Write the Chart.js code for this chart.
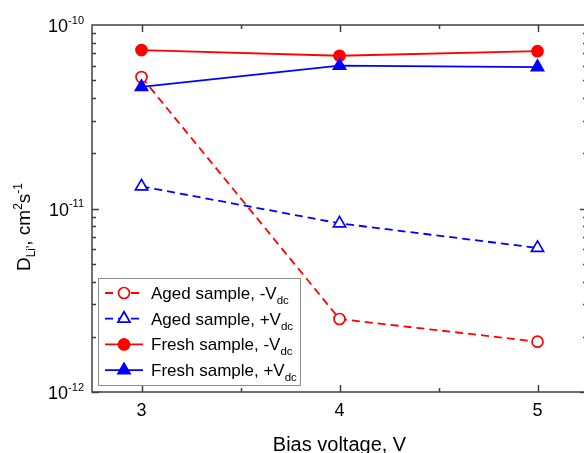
<!DOCTYPE html>
<html>
<head>
<meta charset="utf-8">
<script src="https://cdn.jsdelivr.net/npm/chart.js@4.4.1/dist/chart.umd.min.js"></script>
<style>
  html, body { margin: 0; padding: 0; background: #fff; overflow: hidden; width: 584px; height: 453px; }
  canvas { display: block; }
</style>
</head>
<body>
<canvas id="chart" width="600" height="453"></canvas>
<script>
// Values (D_Li in cm^2/s)
const biasVoltage = [3, 4, 5];
const agedNegative = [5.2e-11, 2.5e-12, 1.88e-12];
const agedPositive = [1.32e-11, 8.3e-12, 6.1e-12];
const freshNegative = [7.3e-11, 6.8e-11, 7.2e-11];
const freshPositive = [4.6e-11, 6.0e-11, 5.9e-11];

const xTickValues = [3, 4, 5];
const xMinorTicks = [3.5, 4.5];
const yDecades = [-12, -11, -10];

const seriesNames = ['Aged sample, -V', 'Aged sample, +V', 'Fresh sample, -V', 'Fresh sample, +V'];
const seriesSubscript = 'dc';

const RED = '#ff0000';
const BLUE = '#0000ff';
const AXIS = '#404040';
const FONT = '"Liberation Sans", Arial, sans-serif';

const toPoints = (values) => biasVoltage.map((x, i) => ({ x, y: values[i] }));

const series = [
  { values: agedNegative, color: RED, dash: [8, 5], style: 'circle', radius: 5.5, open: true, order: 3 },
  { values: agedPositive, color: BLUE, dash: [8, 5], style: 'triangle', radius: 7, open: true, order: 2 },
  { values: freshNegative, color: RED, dash: [], style: 'circle', radius: 5.5, open: false, order: 1 },
  { values: freshPositive, color: BLUE, dash: [], style: 'triangle', radius: 7, open: false, order: 0 }
];

const datasets = series.map((s, i) => ({
  label: seriesNames[i],
  data: toPoints(s.values),
  borderColor: s.color,
  borderWidth: 1.8,
  borderDash: s.dash,
  fill: false,
  tension: 0,
  pointStyle: s.style,
  pointRadius: s.radius,
  pointBorderWidth: 1.7,
  pointBorderColor: s.color,
  pointBackgroundColor: s.open ? '#ffffff' : s.color,
  order: s.order
}));

// draws text pieces with sub/superscripts in a row, returns end x
function drawRich(ctx, parts, x, y) {
  parts.forEach(([text, size, shift]) => {
    ctx.font = `${size}px ${FONT}`;
    ctx.fillText(text, x, y + shift);
    x += ctx.measureText(text).width;
  });
  return x;
}

function richWidth(ctx, parts) {
  return parts.reduce((w, [text, size]) => {
    ctx.font = `${size}px ${FONT}`;
    return w + ctx.measureText(text).width;
  }, 0);
}

function marker(ctx, s, x, y) {
  ctx.save();
  ctx.lineWidth = 1.7;
  ctx.strokeStyle = s.color;
  ctx.fillStyle = s.open ? '#ffffff' : s.color;
  ctx.setLineDash([]);
  Chart.helpers.drawPoint(ctx, { pointStyle: s.style, radius: s.radius, rotation: 0, borderWidth: 1.7 }, x, y);
  ctx.restore();
}

const frameAndLabels = {
  id: 'frameAndLabels',
  afterDatasetsDraw(chart) {
    const { ctx, chartArea: area, scales: { x, y } } = chart;
    ctx.save();

    // frame
    ctx.strokeStyle = AXIS;
    ctx.lineWidth = 1.5;
    ctx.strokeRect(area.left, area.top, area.right - area.left, area.bottom - area.top);

    // inward ticks
    ctx.beginPath();
    const xTick = (v, len) => {
      const px = Math.round(x.getPixelForValue(v)) + 0.5;
      ctx.moveTo(px, area.bottom); ctx.lineTo(px, area.bottom - len);
      ctx.moveTo(px, area.top); ctx.lineTo(px, area.top + len);
    };
    xTickValues.forEach(v => xTick(v, 7));
    xMinorTicks.forEach(v => xTick(v, 4));
    yDecades.slice(0, -1).forEach(e => {
      for (let m = 1; m <= 9; m++) {
        const py = Math.round(y.getPixelForValue(m * Math.pow(10, e))) + 0.5;
        const len = m === 1 ? 7 : 4;
        ctx.moveTo(area.left, py); ctx.lineTo(area.left + len, py);
        ctx.moveTo(area.right, py); ctx.lineTo(area.right - len, py);
      }
    });
    ctx.stroke();

    ctx.fillStyle = '#000';
    ctx.textBaseline = 'alphabetic';

    // x tick labels
    ctx.font = `18px ${FONT}`;
    ctx.textAlign = 'center';
    xTickValues.forEach(v => ctx.fillText(String(v), x.getPixelForValue(v), 416));

    // y tick labels: 10^e
    ctx.textAlign = 'left';
    yDecades.forEach(e => {
      const py = y.getPixelForValue(Math.pow(10, e));
      const parts = [['10', 18, 0], [String(e), 11, -8.5]];
      drawRich(ctx, parts, 84 - richWidth(ctx, parts), py + 7);
    });

    // x title
    ctx.font = `20px ${FONT}`;
    ctx.textAlign = 'center';
    ctx.fillText('Bias voltage, V', (area.left + area.right) / 2, 451);

    // y title, rotated
    ctx.textAlign = 'left';
    const yTitle = [['D', 19, 0], ["Li'", 12, 5], [', cm', 19, 0], ['2', 12, -8], ['s', 19, 0], ['-1', 12, -8]];
    const tw = richWidth(ctx, yTitle);
    ctx.save();
    ctx.translate(30, 227 + tw / 2);
    ctx.rotate(-Math.PI / 2);
    drawRich(ctx, yTitle, 0, 0);
    ctx.restore();

    // legend
    const box = { left: 98.5, top: 278.5, width: 202, height: 107 };
    ctx.fillStyle = '#ffffff';
    ctx.fillRect(box.left, box.top, box.width, box.height);
    ctx.strokeStyle = '#8c8c8c';
    ctx.lineWidth = 1;
    ctx.strokeRect(box.left, box.top, box.width, box.height);

    series.forEach((s, i) => {
      const cy = 293 + i * 25.7;
      ctx.save();
      ctx.strokeStyle = s.color;
      ctx.lineWidth = 1.8;
      ctx.setLineDash(s.dash.length ? [8, 5] : []);
      ctx.beginPath();
      ctx.moveTo(105, cy);
      ctx.lineTo(143, cy);
      ctx.stroke();
      ctx.restore();
      marker(ctx, s, 124, cy);

      ctx.fillStyle = '#000';
      ctx.textAlign = 'left';
      drawRich(ctx, [[seriesNames[i], 17, 0], [seriesSubscript, 11.5, 5]], 151, cy + 6);
    });

    ctx.restore();
  }
};

new Chart(document.getElementById('chart'), {
  type: 'line',
  data: { datasets },
  options: {
    responsive: false,
    animation: false,
    layout: { padding: { top: 25, right: 13, left: 0, bottom: 0 } },
    plugins: { legend: { display: false }, tooltip: { enabled: false } },
    scales: {
      x: {
        type: 'linear', min: 2.75, max: 5.25,
        ticks: { display: false }, grid: { display: false }, border: { display: false },
        afterFit: (scale) => { scale.height = 61; }
      },
      y: {
        type: 'logarithmic', min: 1e-12, max: 1e-10,
        ticks: { display: false }, grid: { display: false }, border: { display: false },
        afterFit: (scale) => { scale.width = 92; }
      }
    }
  },
  plugins: [frameAndLabels]
});
</script>
</body>
</html>
